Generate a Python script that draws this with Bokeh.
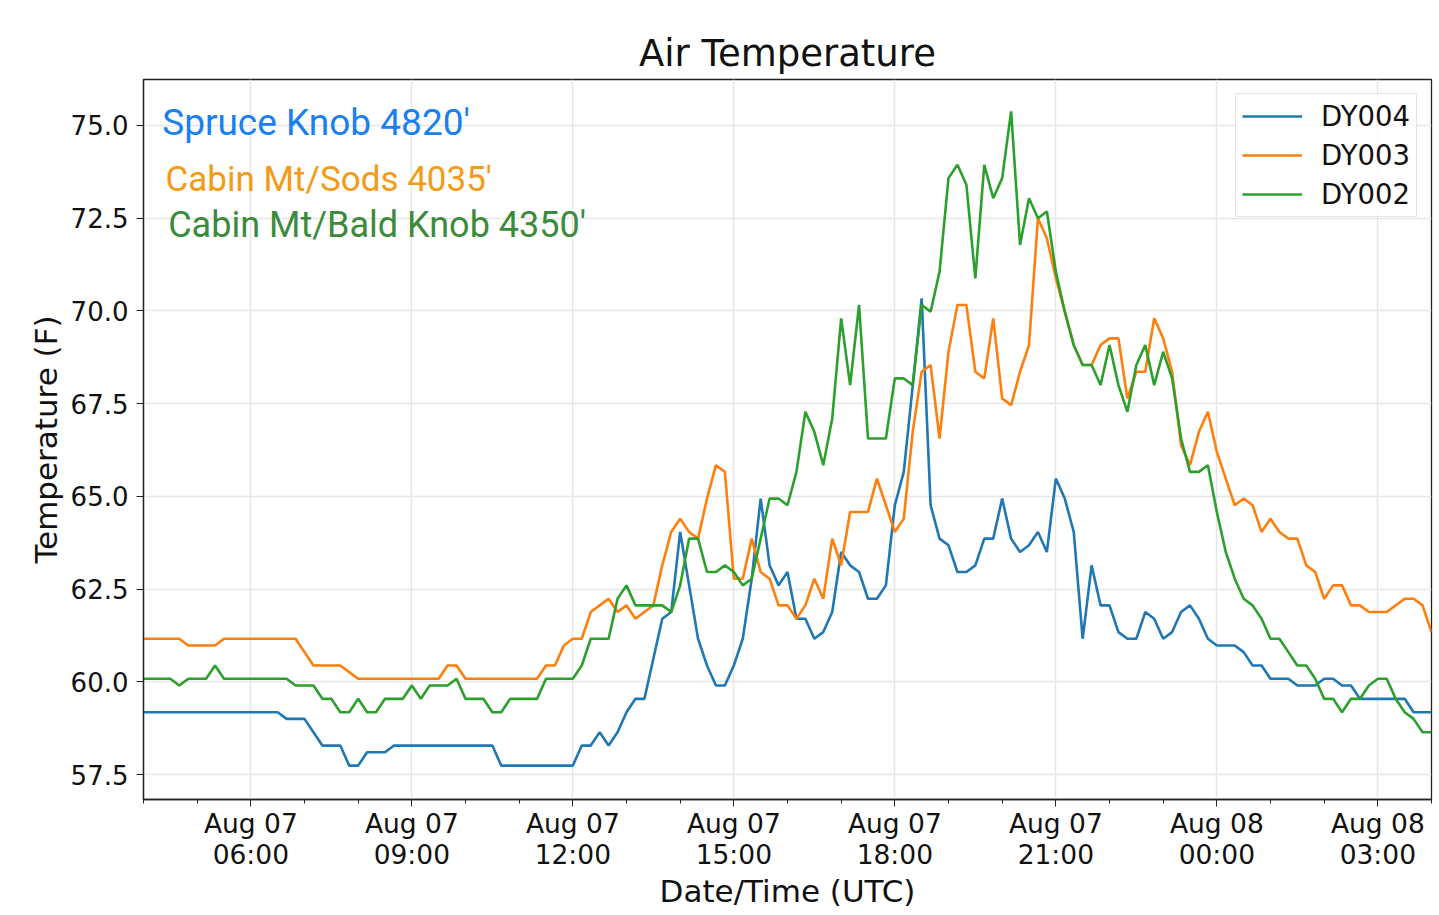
import pandas as pd
from bokeh.plotting import figure
from bokeh.models import FixedTicker, DatetimeTickFormatter, Label, Range1d, PrintfTickFormatter
from bokeh.embed import file_html
from bokeh.resources import INLINE

# ---- data (10-minute samples, 2019-08-07 04:00 .. 2019-08-08 04:00 UTC) ----
start_time = "2019-08-07 04:00"
n_samples = 145

dy004 = [
    59.18, 59.18, 59.18, 59.18, 59.18, 59.18, 59.18, 59.18, 59.18, 59.18, 59.18, 59.18,
    59.18, 59.18, 59.18, 59.18, 59.0, 59.0, 59.0, 58.64, 58.28, 58.28, 58.28, 57.74,
    57.74, 58.1, 58.1, 58.1, 58.28, 58.28, 58.28, 58.28, 58.28, 58.28, 58.28, 58.28,
    58.28, 58.28, 58.28, 58.28, 57.74, 57.74, 57.74, 57.74, 57.74, 57.74, 57.74, 57.74,
    57.74, 58.28, 58.28, 58.64, 58.28, 58.64, 59.18, 59.54, 59.54, 60.62, 61.7, 61.88,
    64.04, 62.6, 61.16, 60.44, 59.9, 59.9, 60.44, 61.16, 62.78, 64.94, 63.14, 62.6,
    62.96, 61.7, 61.7, 61.16, 61.34, 61.88, 63.5, 63.14, 62.96, 62.24, 62.24, 62.6,
    64.76, 65.66, 67.98, 70.34, 64.76, 63.86, 63.68, 62.96, 62.96, 63.14, 63.86, 63.86,
    64.94, 63.86, 63.5, 63.68, 64.04, 63.5, 65.48, 64.94, 64.04, 61.16, 63.14, 62.06,
    62.06, 61.34, 61.16, 61.16, 61.88, 61.7, 61.16, 61.34, 61.88, 62.06, 61.7, 61.16,
    60.98, 60.98, 60.98, 60.8, 60.44, 60.44, 60.08, 60.08, 60.08, 59.9, 59.9, 59.9,
    60.08, 60.08, 59.9, 59.9, 59.54, 59.54, 59.54, 59.54, 59.54, 59.54, 59.18, 59.18,
    59.18,
]

dy003 = [
    61.16, 61.16, 61.16, 61.16, 61.16, 60.98, 60.98, 60.98, 60.98, 61.16, 61.16, 61.16,
    61.16, 61.16, 61.16, 61.16, 61.16, 61.16, 60.8, 60.44, 60.44, 60.44, 60.44, 60.26,
    60.08, 60.08, 60.08, 60.08, 60.08, 60.08, 60.08, 60.08, 60.08, 60.08, 60.44, 60.44,
    60.08, 60.08, 60.08, 60.08, 60.08, 60.08, 60.08, 60.08, 60.08, 60.44, 60.44, 60.98,
    61.16, 61.16, 61.88, 62.06, 62.24, 61.88, 62.06, 61.7, 61.88, 62.06, 63.14, 64.04,
    64.4, 64.04, 63.86, 64.94, 65.84, 65.66, 62.78, 62.78, 63.86, 62.96, 62.78, 62.06,
    62.06, 61.7, 62.06, 62.78, 62.24, 63.86, 63.14, 64.58, 64.58, 64.58, 65.48, 64.76,
    64.04, 64.4, 66.74, 68.36, 68.54, 66.56, 68.9, 70.16, 70.16, 68.36, 68.18, 69.8,
    67.64, 67.46, 68.36, 69.08, 72.5, 71.96, 70.88, 69.98, 69.08, 68.54, 68.54, 69.08,
    69.26, 69.26, 67.64, 68.36, 68.36, 69.8, 69.26, 68.36, 66.38, 65.84, 66.74, 67.28,
    66.2, 65.48, 64.76, 64.94, 64.76, 64.04, 64.4, 64.04, 63.86, 63.86, 63.14, 62.96,
    62.24, 62.6, 62.6, 62.06, 62.06, 61.88, 61.88, 61.88, 62.06, 62.24, 62.24, 62.06,
    61.34,
]

dy002 = [
    60.08, 60.08, 60.08, 60.08, 59.9, 60.08, 60.08, 60.08, 60.44, 60.08, 60.08, 60.08,
    60.08, 60.08, 60.08, 60.08, 60.08, 59.9, 59.9, 59.9, 59.54, 59.54, 59.18, 59.18,
    59.54, 59.18, 59.18, 59.54, 59.54, 59.54, 59.9, 59.54, 59.9, 59.9, 59.9, 60.08,
    59.54, 59.54, 59.54, 59.18, 59.18, 59.54, 59.54, 59.54, 59.54, 60.08, 60.08, 60.08,
    60.08, 60.44, 61.16, 61.16, 61.16, 62.24, 62.6, 62.06, 62.06, 62.06, 62.06, 61.88,
    62.6, 63.86, 63.86, 62.96, 62.96, 63.14, 62.96, 62.6, 62.78, 63.86, 64.94, 64.94,
    64.76, 65.66, 67.28, 66.74, 65.84, 67.1, 69.8, 68.0, 70.16, 66.56, 66.56, 66.56,
    68.18, 68.18, 68.0, 70.16, 69.98, 71.06, 73.58, 73.94, 73.4, 70.88, 73.94, 73.04,
    73.58, 75.38, 71.78, 73.04, 72.5, 72.68, 71.06, 69.98, 69.08, 68.54, 68.54, 68.0,
    69.08, 68.0, 67.28, 68.54, 69.08, 68.0, 68.9, 68.18, 66.56, 65.66, 65.66, 65.84,
    64.58, 63.5, 62.78, 62.24, 62.06, 61.7, 61.16, 61.16, 60.8, 60.44, 60.44, 60.08,
    59.54, 59.54, 59.18, 59.54, 59.54, 59.9, 60.08, 60.08, 59.54, 59.18, 59.0, 58.64,
    58.64,
]

series_names = ["DY004", "DY003", "DY002"]
series_colors = ["#1f77b4", "#ff7f0e", "#2ca02c"]

annotations = ["Spruce Knob 4820'", "Cabin Mt/Sods 4035'", "Cabin Mt/Bald Knob 4350'"]
annotation_colors = ["#1a7ff0", "#f39a16", "#3c8a3c"]

y_ticks = [57.5, 60.0, 62.5, 65.0, 67.5, 70.0, 72.5, 75.0]

# ---- build ----
times = pd.date_range(start_time, periods=n_samples, freq="10min")
t0 = times[0]
t1 = times[-1]


def ms(ts):
    return ts.value / 1e6


major = [ms(ts) for ts in pd.date_range("2019-08-07 06:00", "2019-08-08 03:00", freq="3h")]
minor = [ms(ts) for ts in pd.date_range(t0, t1, freq="1h")]

p = figure(
    x_axis_type="datetime",
    frame_width=1288, frame_height=720,
    min_border_left=143, min_border_top=79, min_border_right=2, min_border_bottom=100,
    x_range=Range1d(ms(t0), ms(t1)), y_range=Range1d(56.826, 76.24),
    output_backend="svg", toolbar_location=None,
    title="Air Temperature",
    background_fill_color="white", border_fill_color="white",
)

for vals, name, col in zip([dy004, dy003, dy002], series_names, series_colors):
    p.line(times, vals, line_color=col, line_width=2.6, legend_label=name)

# title
p.title.text_font = "DejaVu Sans"
p.title.text_font_size = "37px"
p.title.text_font_style = "normal"
p.title.align = "center"
p.title.text_color = "#111111"

# axes
p.xaxis.ticker = FixedTicker(ticks=major, minor_ticks=minor)
fmt = "%b %d\n%H:%M"
p.xaxis.formatter = DatetimeTickFormatter(
    milliseconds=fmt, seconds=fmt, minsec=fmt, minutes=fmt, hourmin=fmt,
    hours=fmt, days=fmt, months=fmt, years=fmt,
)
p.yaxis.ticker = FixedTicker(ticks=y_ticks, minor_ticks=[])
p.yaxis.formatter = PrintfTickFormatter(format="%.1f")

p.xaxis.axis_label = "Date/Time (UTC)"
p.yaxis.axis_label = "Temperature (F)"
for ax in (p.xaxis, p.yaxis):
    ax.axis_label_text_font = "DejaVu Sans"
    ax.axis_label_text_font_size = "31px"
    ax.axis_label_text_font_style = "normal"
    ax.axis_label_text_color = "#111111"
    ax.major_label_text_font = "DejaVu Sans"
    ax.major_label_text_font_size = "26px"
    ax.major_label_text_color = "#111111"
    ax.axis_line_color = "#222222"
    ax.axis_line_width = 1.3
    ax.major_tick_line_color = "#222222"
    ax.minor_tick_line_color = "#222222"
    ax.major_tick_in = 0
    ax.major_tick_out = 7
    ax.minor_tick_in = 0
p.xaxis.minor_tick_out = 4
p.yaxis.minor_tick_out = 0
p.xaxis.major_label_text_font_size = "26.5px"
p.xaxis.major_label_standoff = 1
p.xaxis.major_label_text_line_height = 1.03
p.yaxis.major_label_standoff = 8
p.xaxis.axis_label_standoff = 0
p.yaxis.axis_label_standoff = 4

p.grid.grid_line_color = "#e6e6e6"
p.grid.grid_line_width = 1.5
p.outline_line_color = "#222222"
p.outline_line_width = 1.3

# legend
lg = p.legend[0]
lg.location = "top_right"
lg.margin = 14
lg.padding = 6
lg.spacing = 7
lg.glyph_width = 60
lg.glyph_height = 32
lg.label_height = 32
lg.label_standoff = 19
lg.label_text_font = "DejaVu Sans"
lg.label_text_font_size = "27.5px"
lg.label_text_color = "#111111"
lg.border_line_color = "#cccccc"
lg.border_line_width = 1.3
lg.background_fill_alpha = 0.8

# station annotations (placed in data coordinates: hours after start, temperature)
hour_ms = 3600 * 1000.0
ann_pos = [(0.348, 75.08, "37px"), (0.41, 73.55, "35px"), (0.46, 72.33, "36px")]
for text, col, (dh, yy, fs) in zip(annotations, annotation_colors, ann_pos):
    p.add_layout(Label(
        x=ms(t0) + dh * hour_ms, y=yy, text=text, text_color=col,
        text_font="Roboto", text_font_size=fs, text_baseline="alphabetic",
    ))

open("out.html", "w").write(file_html(p, INLINE))
